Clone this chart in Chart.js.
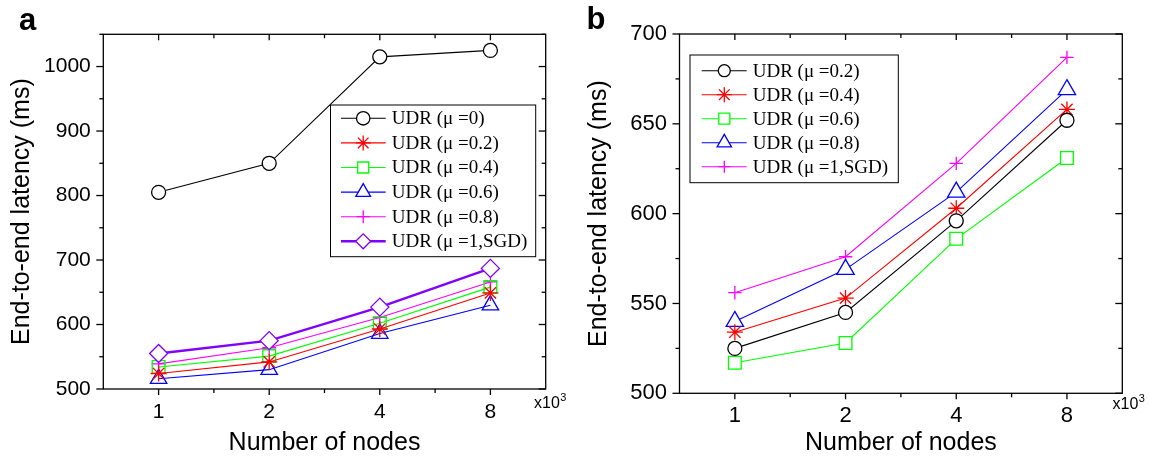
<!DOCTYPE html>
<html><head><meta charset="utf-8">
<script src="https://cdn.jsdelivr.net/npm/chart.js@4/dist/chart.umd.min.js"></script>
<style>
html,body{margin:0;padding:0;background:#fff;}
#wrap{position:relative;width:1149px;height:458px;overflow:hidden;background:#fff}
canvas{position:absolute;top:0}
</style></head><body>
<div id="wrap">
<canvas id="ca" width="574" height="458" style="left:0"></canvas>
<canvas id="cb" width="575" height="458" style="left:574px"></canvas>
</div>
<script>
// ---------- data ----------
const nodeLabels = ['1', '2', '4', '8'];
const xTitle = 'Number of nodes';
const yTitle = 'End-to-end latency (ms)';
const axisUnit = 'x10';
const axisUnitExp = '3';

// panel a
const aSeriesLabels = ['UDR (μ =0)', 'UDR (μ =0.2)', 'UDR (μ =0.4)', 'UDR (μ =0.6)', 'UDR (μ =0.8)', 'UDR (μ =1,SGD)'];
const aMu0  = [805, 850, 1015, 1025];
const aMu02 = [524, 542, 593, 649];
const aMu04 = [534, 551, 602, 658];
const aMu06 = [516, 530, 586, 630];
const aMu08 = [539, 564, 611, 666];
const aMu1  = [555, 575, 627, 687];
const aYTicks = {min: 500, max: 1050, major: 100, minor: 50};

// panel b
const bSeriesLabels = ['UDR (μ =0.2)', 'UDR (μ =0.4)', 'UDR (μ =0.6)', 'UDR (μ =0.8)', 'UDR (μ =1,SGD)'];
const bMu02 = [525, 545, 596, 652];
const bMu04 = [534, 553, 603, 658];
const bMu06 = [517, 528, 586, 631];
const bMu08 = [540, 569, 612, 669];
const bMu1  = [556, 576, 628, 687];
const bYTicks = {min: 500, max: 700, major: 50, minor: 25};

// ---------- helpers ----------
const SANS = '"Liberation Sans", Arial, Helvetica, sans-serif';
const SERIF = '"Liberation Serif", "Times New Roman", serif';

function pathMarker(ctx, style, x, y, r) {
  ctx.beginPath();
  if (style === 'circle') { ctx.arc(x, y, r, 0, Math.PI * 2); ctx.closePath(); }
  else if (style === 'rect') { const s = r * Math.SQRT1_2; ctx.rect(x - s, y - s, 2 * s, 2 * s); }
  else if (style === 'rectRot') { ctx.moveTo(x - r, y); ctx.lineTo(x, y - r); ctx.lineTo(x + r, y); ctx.lineTo(x, y + r); ctx.closePath(); }
  else if (style === 'triangle') {
    ctx.moveTo(x, y - r); ctx.lineTo(x + 0.866 * r, y + 0.5 * r); ctx.lineTo(x - 0.866 * r, y + 0.5 * r); ctx.closePath();
  } else if (style === 'cross') {
    ctx.moveTo(x, y - r); ctx.lineTo(x, y + r); ctx.moveTo(x - r, y); ctx.lineTo(x + r, y);
  } else if (style === 'star') {
    const d = r * Math.SQRT1_2;
    ctx.moveTo(x, y - r); ctx.lineTo(x, y + r); ctx.moveTo(x - r, y); ctx.lineTo(x + r, y);
    ctx.moveTo(x - d, y - d); ctx.lineTo(x + d, y + d); ctx.moveTo(x - d, y + d); ctx.lineTo(x + d, y - d);
  }
}

const framePlugin = {
  id: 'frame',
  afterDraw(chart, args, opts) {
    const {ctx, chartArea: a, scales: {x, y}} = chart;
    ctx.save();
    // frame
    ctx.strokeStyle = '#000';
    ctx.lineWidth = 1.3;
    ctx.strokeRect(a.left, a.top, a.right - a.left, a.bottom - a.top);
    const seg = (x0, y0, x1, y1) => { ctx.beginPath(); ctx.moveTo(x0, y0); ctx.lineTo(x1, y1); ctx.stroke(); };
    // y ticks
    const t = opts.yTicks;
    for (let v = t.min; v <= t.max + 1e-9; v += t.minor) {
      const py = y.getPixelForValue(v);
      const major = Math.abs(((v - t.min) % t.major)) < 1e-6;
      const L = major ? 7 : 4;
      seg(a.left - L, py, a.left, py);
      seg(a.right - L, py, a.right, py);
    }
    // x ticks
    const n = nodeLabels.length;
    for (let i = 0; i < n; i++) {
      const px = x.getPixelForValue(i);
      seg(px, a.bottom, px, a.bottom + 6);
      seg(px, a.top, px, a.top + 6);
    }
    for (let i = 0; i < n - 1; i++) {
      const px = x.getPixelForValue(i + 0.5);
      seg(px, a.bottom, px, a.bottom + 4);
      seg(px, a.top, px, a.top + 4);
    }
    // legend
    const lg = opts.legend;
    ctx.fillStyle = '#fff';
    ctx.fillRect(lg.x, lg.y, lg.w, lg.h);
    ctx.lineWidth = 1;
    ctx.strokeStyle = '#000';
    ctx.strokeRect(lg.x, lg.y, lg.w, lg.h);
    chart.data.datasets.forEach((ds, i) => {
      const ry = lg.first + i * lg.gap;
      ctx.strokeStyle = ds.borderColor;
      ctx.lineWidth = ds.borderWidth;
      seg(lg.x0, ry, lg.x1, ry);
      ctx.lineWidth = ds.pointBorderWidth;
      pathMarker(ctx, ds.pointStyle, lg.mx, ry, ds.legendRadius);
      if (['circle', 'rect', 'rectRot', 'triangle'].includes(ds.pointStyle)) { ctx.fillStyle = '#fff'; ctx.fill(); }
      ctx.stroke();
      ctx.fillStyle = '#000';
      ctx.font = lg.font;
      ctx.textBaseline = 'middle';
      ctx.textAlign = 'left';
      ctx.fillText(ds.label, lg.tx, ry + 1);
    });
    // panel letter
    ctx.fillStyle = '#000';
    ctx.font = 'bold 31px ' + SANS;
    ctx.textBaseline = 'alphabetic';
    ctx.textAlign = 'left';
    ctx.fillText(opts.letter, opts.letterX, opts.letterY);
    // x10^3
    ctx.font = '16px ' + SANS;
    ctx.fillText(axisUnit, opts.unitX, opts.unitY);
    const w = ctx.measureText(axisUnit).width;
    ctx.font = '11px ' + SANS;
    ctx.fillText(axisUnitExp, opts.unitX + w + 0.5, opts.unitY - 7);
    ctx.restore();
  }
};

function ds(label, data, color, style, r, lr, fill, lw, order) {
  return {
    label, data, borderColor: color, borderWidth: lw, pointStyle: style, pointRadius: r,
    pointHoverRadius: r, pointBorderColor: color, pointBackgroundColor: fill,
    pointBorderWidth: 1.3, tension: 0, fill: false, legendRadius: lr, order: order,
    clip: false
  };
}

function makeOptions(cfg) {
  return {
    responsive: false, animation: false, events: [],
    layout: {padding: {top: cfg.top, right: cfg.right, left: 0, bottom: 0}},
    plugins: {
      legend: {display: false}, tooltip: {enabled: false}, title: {display: false},
      frame: cfg.frame
    },
    scales: {
      x: {
        type: 'category', labels: nodeLabels, offset: true,
        grid: {display: false, drawTicks: false, tickLength: 0},
        border: {display: false},
        ticks: {font: {size: cfg.tickSize, family: SANS}, color: '#000', padding: cfg.xPad, maxRotation: 0, autoSkip: false},
        title: {display: true, text: xTitle, color: '#000', font: {size: 25, family: SANS}, padding: {top: 0, bottom: 0}},
        afterFit(s) { s.height = cfg.xHeight; }
      },
      y: {
        min: cfg.yTicks.min, max: cfg.yTicks.max,
        grid: {display: false, drawTicks: false, tickLength: 0},
        border: {display: false},
        ticks: {stepSize: cfg.yTicks.major, includeBounds: false, font: {size: cfg.tickSize, family: SANS}, color: '#000', padding: 12.5,
          callback: (v) => ((v - cfg.yTicks.min) % cfg.yTicks.major === 0 ? String(v) : '')},
        title: {display: true, text: yTitle, color: '#000', font: {size: 25, family: SANS}, padding: {top: cfg.yTitlePad, bottom: 0}},
        afterFit(s) { s.width = cfg.yWidth; }
      }
    }
  };
}

// ---------- chart a ----------
new Chart(document.getElementById('ca'), {
  type: 'line',
  data: {
    labels: nodeLabels,
    datasets: [
      ds(aSeriesLabels[0], aMu0,  '#000000', 'circle',   7,   6.7, '#ffffff', 1.1, 1),
      ds(aSeriesLabels[1], aMu02, '#ff0000', 'star',     8,   7.5, 'rgba(0,0,0,0)', 1.1, 1),
      ds(aSeriesLabels[2], aMu04, '#00ff00', 'rect',     9,   7.8, 'rgba(0,0,0,0)', 1.1, 1),
      ds(aSeriesLabels[3], aMu06, '#0000ff', 'triangle', 9.5, 8.5, 'rgba(0,0,0,0)', 1.1, 1),
      ds(aSeriesLabels[4], aMu08, '#ff00ff', 'cross',    7,   6.5, 'rgba(0,0,0,0)', 1.1, 1),
      ds(aSeriesLabels[5], aMu1,  '#8000ff', 'rectRot',  9,   7.5, '#ffffff', 2.4, 0)
    ]
  },
  options: makeOptions({
    top: 34.3, right: 28.3, xHeight: 69, yWidth: 103.3, tickSize: 21, xPad: 11, yTitlePad: 7,
    yTicks: aYTicks,
    frame: {
      yTicks: aYTicks, letter: 'a', letterX: 19, letterY: 30, unitX: 534, unitY: 408,
      legend: {x: 330.5, y: 105, w: 205.2, h: 151.7, first: 118.3, gap: 24.6, x0: 341, x1: 385.7, mx: 363.2, tx: 391.8, font: '19px ' + SERIF}
    }
  }),
  plugins: [framePlugin]
});

// ---------- chart b ----------
new Chart(document.getElementById('cb'), {
  type: 'line',
  data: {
    labels: nodeLabels,
    datasets: [
      ds(bSeriesLabels[0], bMu02, '#000000', 'circle',   7,   6,   '#ffffff', 1.1, 1),
      ds(bSeriesLabels[1], bMu04, '#ff0000', 'star',     8,   7.5, 'rgba(0,0,0,0)', 1.1, 1),
      ds(bSeriesLabels[2], bMu06, '#00ff00', 'rect',     9,   7.8, '#ffffff', 1.1, 1),
      ds(bSeriesLabels[3], bMu08, '#0000ff', 'triangle', 10,  8.3, '#ffffff', 1.1, 1),
      ds(bSeriesLabels[4], bMu1,  '#ff00ff', 'cross',    6.7, 6,   'rgba(0,0,0,0)', 1.1, 1)
    ]
  },
  options: makeOptions({
    top: 34, right: 26.7, xHeight: 64.7, yWidth: 105.5, tickSize: 22, xPad: 9, yTitlePad: 10,
    yTicks: bYTicks,
    frame: {
      yTicks: bYTicks, letter: 'b', letterX: 12.5, letterY: 28.5, unitX: 538.5, unitY: 409,
      legend: {x: 116, y: 55, w: 208.3, h: 127.7, first: 70.7, gap: 24, x0: 127.7, x1: 172.7, mx: 150.3, tx: 178.7, font: '19px ' + SERIF}
    }
  }),
  plugins: [framePlugin]
});
</script>
</body></html>
